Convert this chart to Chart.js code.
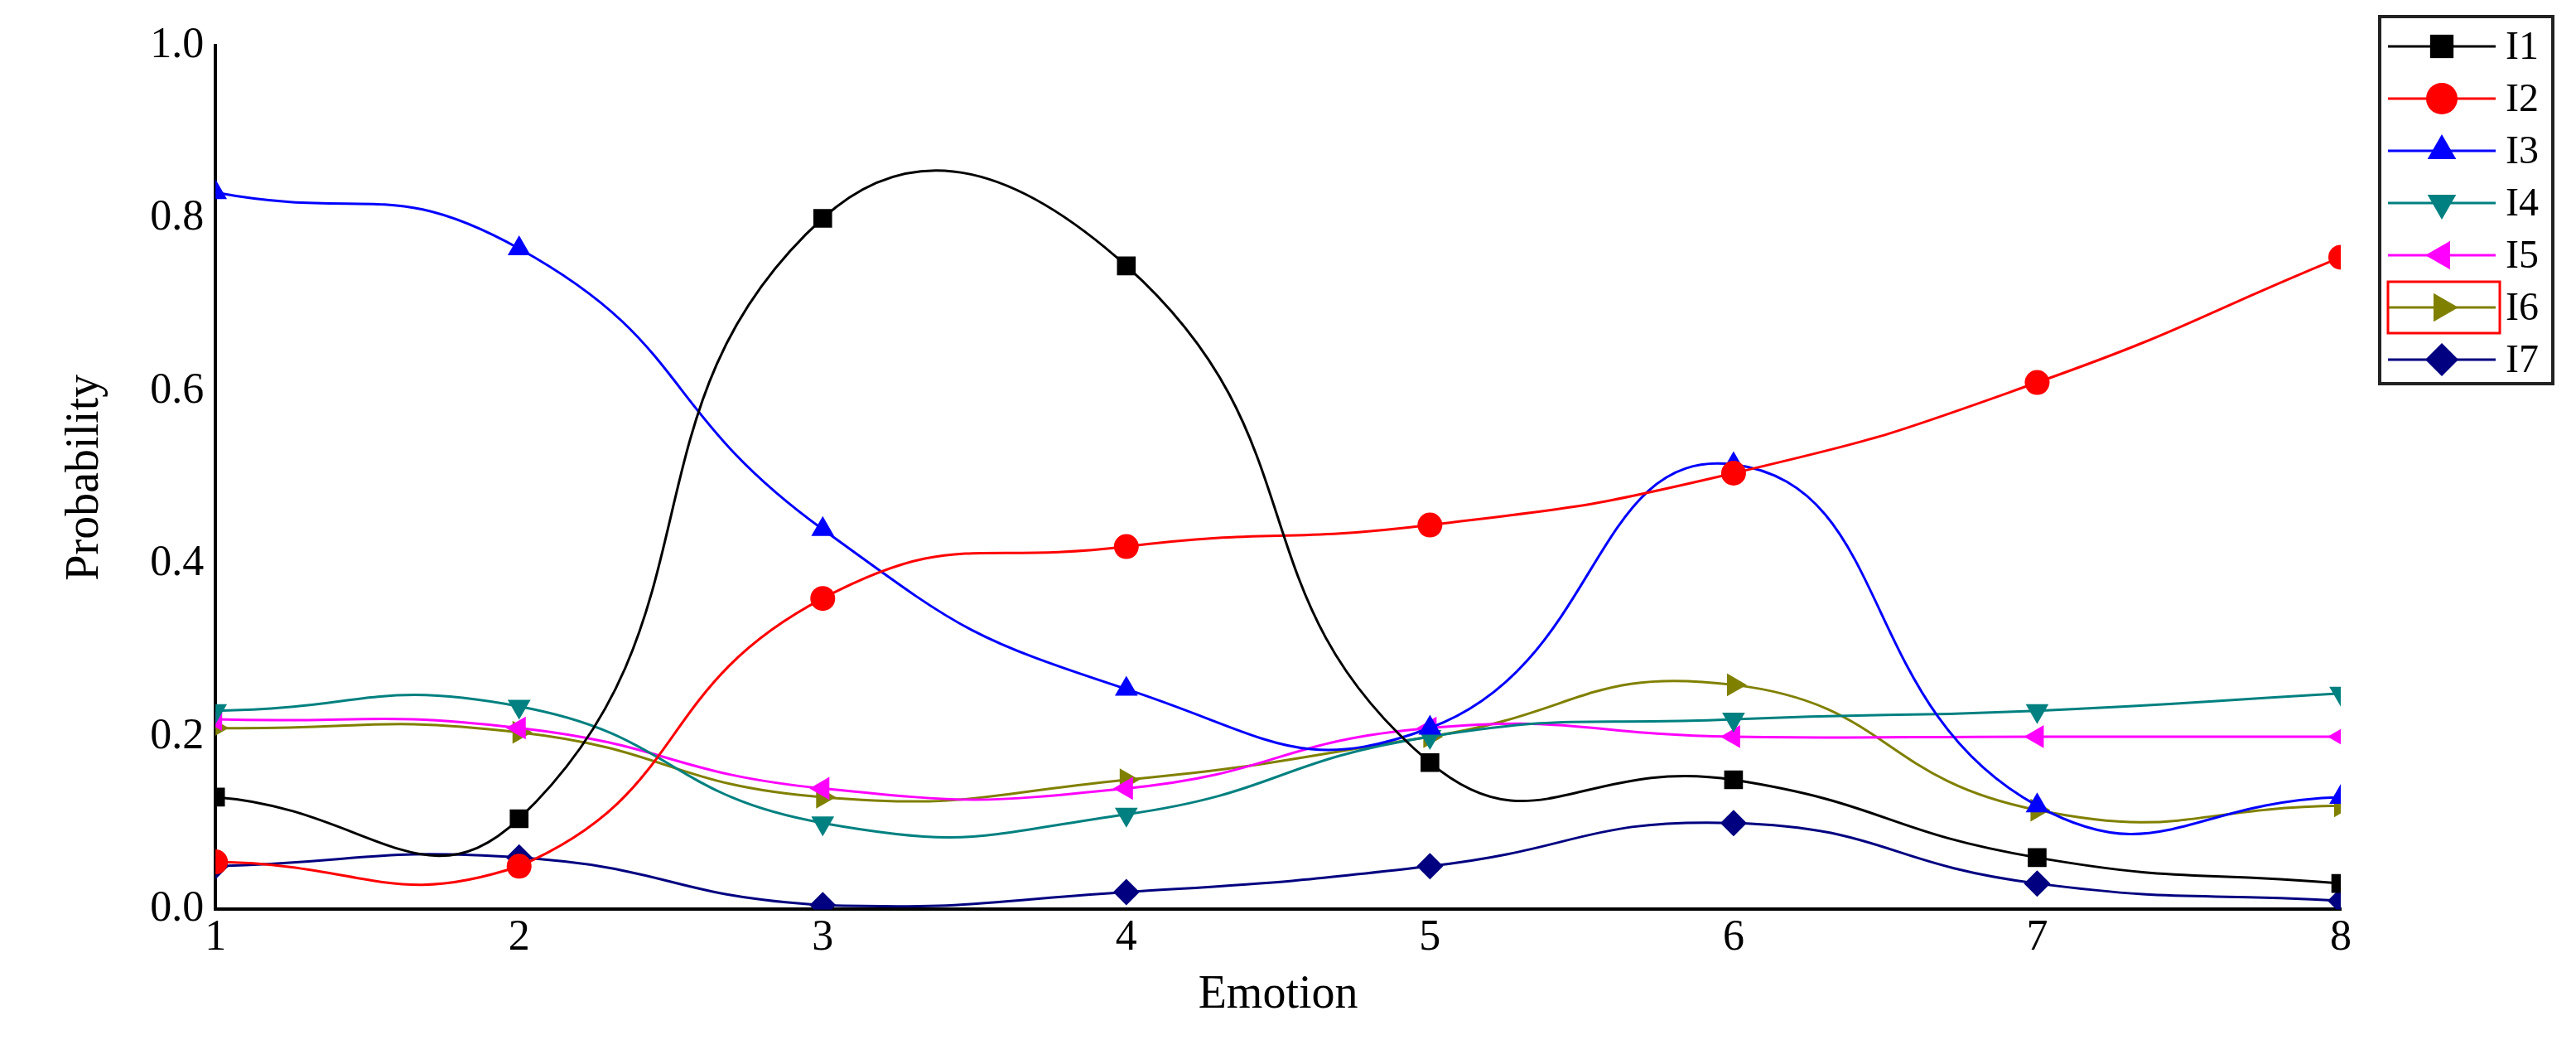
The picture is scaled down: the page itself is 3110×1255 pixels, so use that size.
<!DOCTYPE html>
<html>
<head>
<meta charset="utf-8">
<script src="https://cdn.jsdelivr.net/npm/chart.js@4"></script>
<style>
  html, body { margin: 0; padding: 0; background: #fff; }
</style>
</head>
<body>
<canvas id="myChart" width="3110" height="1255"></canvas>
<script>
// emotion index on the x axis
const emotions = [1, 2, 3, 4, 5, 6, 7, 8];

const seriesNames = ['I1', 'I2', 'I3', 'I4', 'I5', 'I6', 'I7'];
const I1 = [0.13, 0.105, 0.80, 0.745, 0.17, 0.15, 0.06, 0.03];
const I2 = [0.055, 0.05, 0.36, 0.42, 0.445, 0.505, 0.61, 0.755];
const I3 = [0.83, 0.765, 0.44, 0.255, 0.21, 0.515, 0.12, 0.13];
const I4 = [0.23, 0.235, 0.10, 0.11, 0.20, 0.22, 0.23, 0.25];
const I5 = [0.22, 0.21, 0.14, 0.14, 0.21, 0.20, 0.20, 0.20];
const I6 = [0.21, 0.205, 0.13, 0.15, 0.20, 0.26, 0.115, 0.12];
const I7 = [0.05, 0.06, 0.005, 0.02, 0.05, 0.10, 0.03, 0.01];

const yTicks = [0, 0.2, 0.4, 0.6, 0.8, 1.0];

const colors = ['#000000', '#ff0000', '#0000ff', '#008080', '#ff00ff', '#808000', '#000080'];
const markers = ['rect', 'circle', 'triangle', 'triangle', 'triangle', 'triangle', 'rectRot'];
const rotations = [0, 0, 0, 180, -90, 90, 0];
const radii = [16, 15, 16, 16, 16, 16, 16];

const allValues = [I1, I2, I3, I4, I5, I6, I7];

const datasets = allValues.map((vals, i) => ({
  label: seriesNames[i],
  data: vals.map((v, k) => ({ x: emotions[k], y: v })),
  borderColor: colors[i],
  backgroundColor: colors[i],
  borderWidth: 3,
  pointStyle: markers[i],
  pointRotation: rotations[i],
  pointRadius: radii[i],
  pointBorderWidth: 0,
  tension: 0.5
}));

const serif = '"Liberation Serif", "DejaVu Serif", serif';

// legend box drawn by hand (line + marker + label)
const boxLegend = {
  id: 'boxLegend',
  afterDraw(chart) {
    const c = chart.ctx;
    const x0 = 2873, y0 = 20, x1 = 3082, y1 = 463;
    c.save();
    c.fillStyle = '#fff';
    c.fillRect(x0, y0, x1 - x0, y1 - y0);
    c.strokeStyle = '#222';
    c.lineWidth = 4;
    c.strokeRect(x0, y0, x1 - x0, y1 - y0);
    const step = 63;
    chart.data.datasets.forEach((ds, i) => {
      const y = y0 + 36 + i * step;
      c.strokeStyle = ds.borderColor;
      c.lineWidth = 3;
      c.beginPath();
      c.moveTo(2883, y);
      c.lineTo(3013, y);
      c.stroke();
      c.fillStyle = ds.backgroundColor;
      Chart.helpers.drawPoint(c, {
        pointStyle: ds.pointStyle, rotation: ds.pointRotation,
        radius: ds.pointRadius + 4, borderWidth: 0
      }, 2948, y);
      c.fillStyle = '#000';
      c.font = '48px ' + serif;
      c.textBaseline = 'middle';
      c.fillText(ds.label, 3025, y + 2);
      if (ds.label === 'I6') {
        c.strokeStyle = '#ff0000';
        c.lineWidth = 3;
        c.strokeRect(2883, y - 31, 135, 62);
      }
    });
    c.restore();
  }
};

new Chart(document.getElementById('myChart'), {
  type: 'line',
  data: { datasets: datasets },
  options: {
    responsive: false,
    animation: false,
    devicePixelRatio: 1,
    layout: { padding: { left: 40, right: 284, top: 55, bottom: 20 } },
    plugins: { legend: { display: false }, tooltip: { enabled: false } },
    scales: {
      x: {
        type: 'linear',
        min: 1, max: 8,
        grid: { display: false, drawTicks: false },
        border: { display: true, color: '#000', width: 4 },
        ticks: { stepSize: 1, color: '#000', padding: 4, font: { family: serif, size: 52 } },
        title: { display: true, text: 'Emotion', color: '#000', padding: 0, font: { family: serif, size: 56 } }
      },
      y: {
        min: 0, max: 1,
        afterBuildTicks(axis) { axis.ticks = yTicks.map(v => ({ value: v })); },
        grid: { display: false, drawTicks: false },
        border: { display: true, color: '#000', width: 4 },
        ticks: { color: '#000', padding: 14, font: { family: serif, size: 52 },
          callback: v => Number(v).toFixed(1) },
        title: { display: true, text: 'Probability', color: '#000', padding: 30, font: { family: serif, size: 56 } }
      }
    }
  },
  plugins: [boxLegend]
});
</script>
</body>
</html>
